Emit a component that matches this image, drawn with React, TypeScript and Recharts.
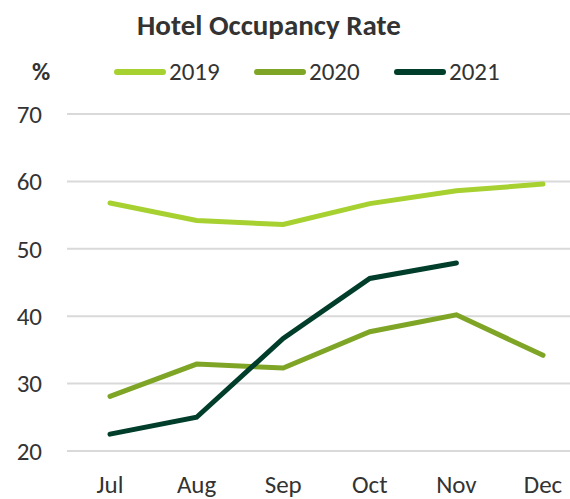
import { LineChart, Line, XAxis, YAxis, CartesianGrid } from "recharts";

const months = ["Jul", "Aug", "Sep", "Oct", "Nov", "Dec"];
const rate2019 = [56.8, 54.2, 53.6, 56.7, 58.6, 59.6];
const rate2020 = [28.1, 32.9, 32.3, 37.7, 40.2, 34.2];
const rate2021 = [22.5, 25.0, 36.7, 45.6, 47.9, null];
const yTicks = [20, 30, 40, 50, 60, 70];

const series = [
  { key: "y2019", name: "2019", color: "#A6D130", values: rate2019 },
  { key: "y2020", name: "2020", color: "#7FA526", values: rate2020 },
  { key: "y2021", name: "2021", color: "#003D2A", values: rate2021 },
];

const data = months.map((m, i) => {
  const row: Record<string, string | number | null> = { month: m };
  series.forEach((s) => {
    row[s.key] = s.values[i];
  });
  return row;
});

const font = "Carlito, 'Open Sans', sans-serif";
const textColor = "#333333";

export default function App() {
  return (
    <div
      style={{
        position: "absolute",
        left: 0,
        top: 0,
        width: 570,
        height: 499,
        background: "#fff",
        fontFamily: font,
        color: textColor,
        overflow: "hidden",
      }}
    >
      <div
        style={{
          position: "absolute",
          top: 6,
          left: 0,
          width: 538,
          textAlign: "center",
          fontSize: 29,
          fontWeight: 700,
          lineHeight: "38px",
        }}
      >
        Hotel Occupancy Rate
      </div>
      <div
        style={{
          position: "absolute",
          top: 57,
          left: 32,
          fontSize: 25,
          fontWeight: 700,
          lineHeight: "30px",
        }}
      >
        %
      </div>
      {series.map((s, i) => (
        <div
          key={s.key}
          style={{
            position: "absolute",
            top: 57,
            left: 114 + i * 140,
            display: "flex",
            alignItems: "center",
            fontSize: 25,
            lineHeight: "30px",
          }}
        >
          <span
            style={{
              display: "inline-block",
              width: 52,
              height: 6,
              borderRadius: 3,
              background: s.color,
              marginRight: 3,
            }}
          />
          {s.name}
        </div>
      ))}
      <LineChart
        width={570}
        height={499}
        data={data}
        margin={{ top: 114, right: 0, bottom: 0, left: 0 }}
      >
        <CartesianGrid vertical={false} stroke="#D9D9D9" strokeWidth={2} />
        <XAxis
          dataKey="month"
          axisLine={false}
          tickLine={false}
          tickSize={0}
          tickMargin={24}
          height={48}
          padding={{ left: 43, right: 27 }}
          tick={{ fontSize: 25, fill: textColor, fontFamily: font }}
        />
        <YAxis
          domain={[20, 70]}
          ticks={yTicks}
          axisLine={false}
          tickLine={false}
          tickSize={0}
          tickMargin={25}
          width={67}
          tick={{ fontSize: 25, fill: textColor, fontFamily: font }}
        />
        {series.map((s) => (
          <Line
            key={s.key}
            dataKey={s.key}
            name={s.name}
            stroke={s.color}
            strokeWidth={5}
            strokeLinecap="round"
            dot={false}
            activeDot={false}
            isAnimationActive={false}
          />
        ))}
      </LineChart>
    </div>
  );
}
